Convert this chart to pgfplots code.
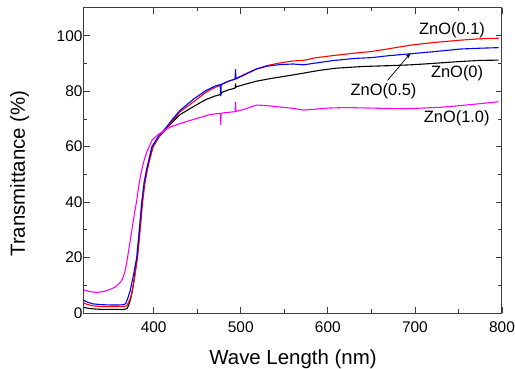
\documentclass[border=0pt]{standalone}
\usepackage{fontspec}
\setmainfont{Liberation Sans}
\usepackage{pgfplots}
\pgfplotsset{compat=1.18}
\usetikzlibrary{arrows.meta}
\definecolor{mag}{RGB}{255,0,255}
\definecolor{frame}{RGB}{60,60,60}
\begin{document}
\begin{tikzpicture}
\begin{axis}[
  scale only axis,
  width=418bp, height=305bp,
  xmin=320, xmax=800, ymin=0, ymax=110,
  xtick={400,500,600,700,800},
  ytick={0,20,40,60,80,100},
  minor x tick num=1, minor y tick num=1,
  tick align=inside,
  major tick length=6bp, minor tick length=3.5bp,
  axis line style={line width=1bp, frame},
  every tick/.style={line width=0.8bp, frame},
  /pgf/number format/assume math mode=true,
  ticklabel style={font=\fontsize{15.5}{18}\selectfont},
  xticklabel style={yshift=-5bp},
  yticklabel style={xshift=2bp},
  label style={font=\fontsize{20.5}{24}\selectfont},
  xlabel={Wave Length (nm)},
  ylabel={Transmittance (\%)},
  xlabel style={at={(axis description cs:0.5,0)}, anchor=base, yshift=-51bp},
  ylabel style={at={(axis description cs:0,0.5)}, anchor=base, xshift=-13bp, yshift=59bp},
  every axis plot/.append style={line width=1.1bp, line join=round},
]
% ZnO(0) black
\addplot[black] coordinates {
(320,2.0)(325,1.7)(330,1.5)(340,1.3)(350,1.3)(360,1.3)(366,1.3)(369.5,1.6)(371.5,3)(373.5,5)(375.5,8)(377.5,12)(379.5,16.5)(381,20)(384,30)(386.8,40)(389.5,47)(392.5,52)(395.5,56)(399,60)(406,63.5)(414.5,66.5)(422,69)(430,71.5)(446,74.5)(460,77)(470,78.2)(476.5,78.8)(477,80.2)(477.5,79)(478,79.5)(485,80.4)(493.5,81.1)(494,82.6)(494.5,81.3)(495,81.6)(505,82.5)(518,83.6)(535,84.6)(555,85.6)(572,86.5)(590,87.5)(610,88.3)(640,88.9)(670,89.2)(695,89.5)(720,90)(752,90.7)(775,91.1)(796,91.2)
};
% ZnO(0.1) red
\addplot[red] coordinates {
(320,3.5)(325,3)(330,2.6)(340,2.3)(350,2.3)(360,2.3)(366,2.3)(369,2.6)(371.5,4)(374,6)(376,9)(378,12.5)(380,17)(381.5,20)(384.5,30)(387.3,40)(390,47)(393,52)(396,56)(399.5,60)(406,63.5)(414,66.2)(422,69.5)(430,72.5)(446,76.2)(460,79.6)(470,81.3)(476,82)(478,82.4)(485,83.5)(494,84.5)(505,86.2)(518,88)(530,89.2)(545,90.2)(560,90.9)(572,91.1)(585,92)(605,92.8)(630,93.7)(650,94.3)(670,95.3)(695,96.6)(720,97.5)(752,98.4)(775,98.9)(796,99.1)
};
% ZnO(0.5) blue
\addplot[blue] coordinates {
(320,4.5)(325,3.8)(330,3.3)(340,3.0)(350,2.9)(360,2.9)(366,3.0)(368,3.5)(370.5,5.5)(373,8)(375,11)(377,14)(380.5,20)(383.5,30)(386.3,40)(389,47)(392,52)(395,56)(398,60)(405,63.5)(414,66.8)(422,70)(430,73)(446,77.2)(460,80.2)(470,81.8)(476.5,82.4)(477,78.3)(477.5,82.4)(478,82.5)(485,83.5)(493.5,84.3)(494,87.8)(494.5,84.4)(495,84.5)(505,86)(518,88)(530,89)(545,89.6)(560,89.8)(572,89.5)(585,90.1)(605,91)(630,91.8)(650,92.1)(670,92.8)(695,93.5)(720,94.2)(752,95.2)(775,95.5)(796,95.7)
};
% ZnO(1.0) magenta
\addplot[mag] coordinates {
(320,8.3)(327,7.7)(335,7.4)(343,7.8)(350,8.5)(356,9.4)(360,10.5)(363,11.6)(365,13)(367,15)(369,18)(371,22)(373,26)(376,32)(378,36)(380.5,40.5)(383,46)(385.5,50.5)(389,55)(392,58)(395,60)(398,62.3)(405,64.3)(414,66.2)(420,67.2)(435,68.8)(450,70.2)(465,71.6)(476.5,72)(477,68)(477.5,72)(478,72.1)(490,72.5)(493.5,72.6)(494,76)(494.5,72.7)(495,72.7)(505,73.6)(518,75)(530,74.8)(545,74.3)(560,73.8)(572,73.2)(585,73.5)(600,73.9)(620,74.1)(650,73.9)(680,73.7)(700,73.8)(730,74.2)(752,74.8)(775,75.5)(796,76.2)
};
\node[font=\fontsize{16.5}{19}\selectfont] at (axis cs:742.6,101.8) {ZnO(0.1)};
\node[font=\fontsize{16.5}{19}\selectfont] at (axis cs:748.4,86.5) {ZnO(0)};
\node[font=\fontsize{16.5}{19}\selectfont] at (axis cs:664,80) {ZnO(0.5)};
\node[font=\fontsize{16.5}{19}\selectfont] at (axis cs:748,70.3) {ZnO(1.0)};
\draw[-{Stealth[length=5bp,width=4bp]}, line width=0.7bp] (axis cs:668.6,83.9) -- (axis cs:694.7,93.6);
\end{axis}
\pgfresetboundingbox
\path[use as bounding box] (current axis.south west) ++(-84bp,-56bp) rectangle ++(515bp,369bp);
\end{tikzpicture}
\end{document}
